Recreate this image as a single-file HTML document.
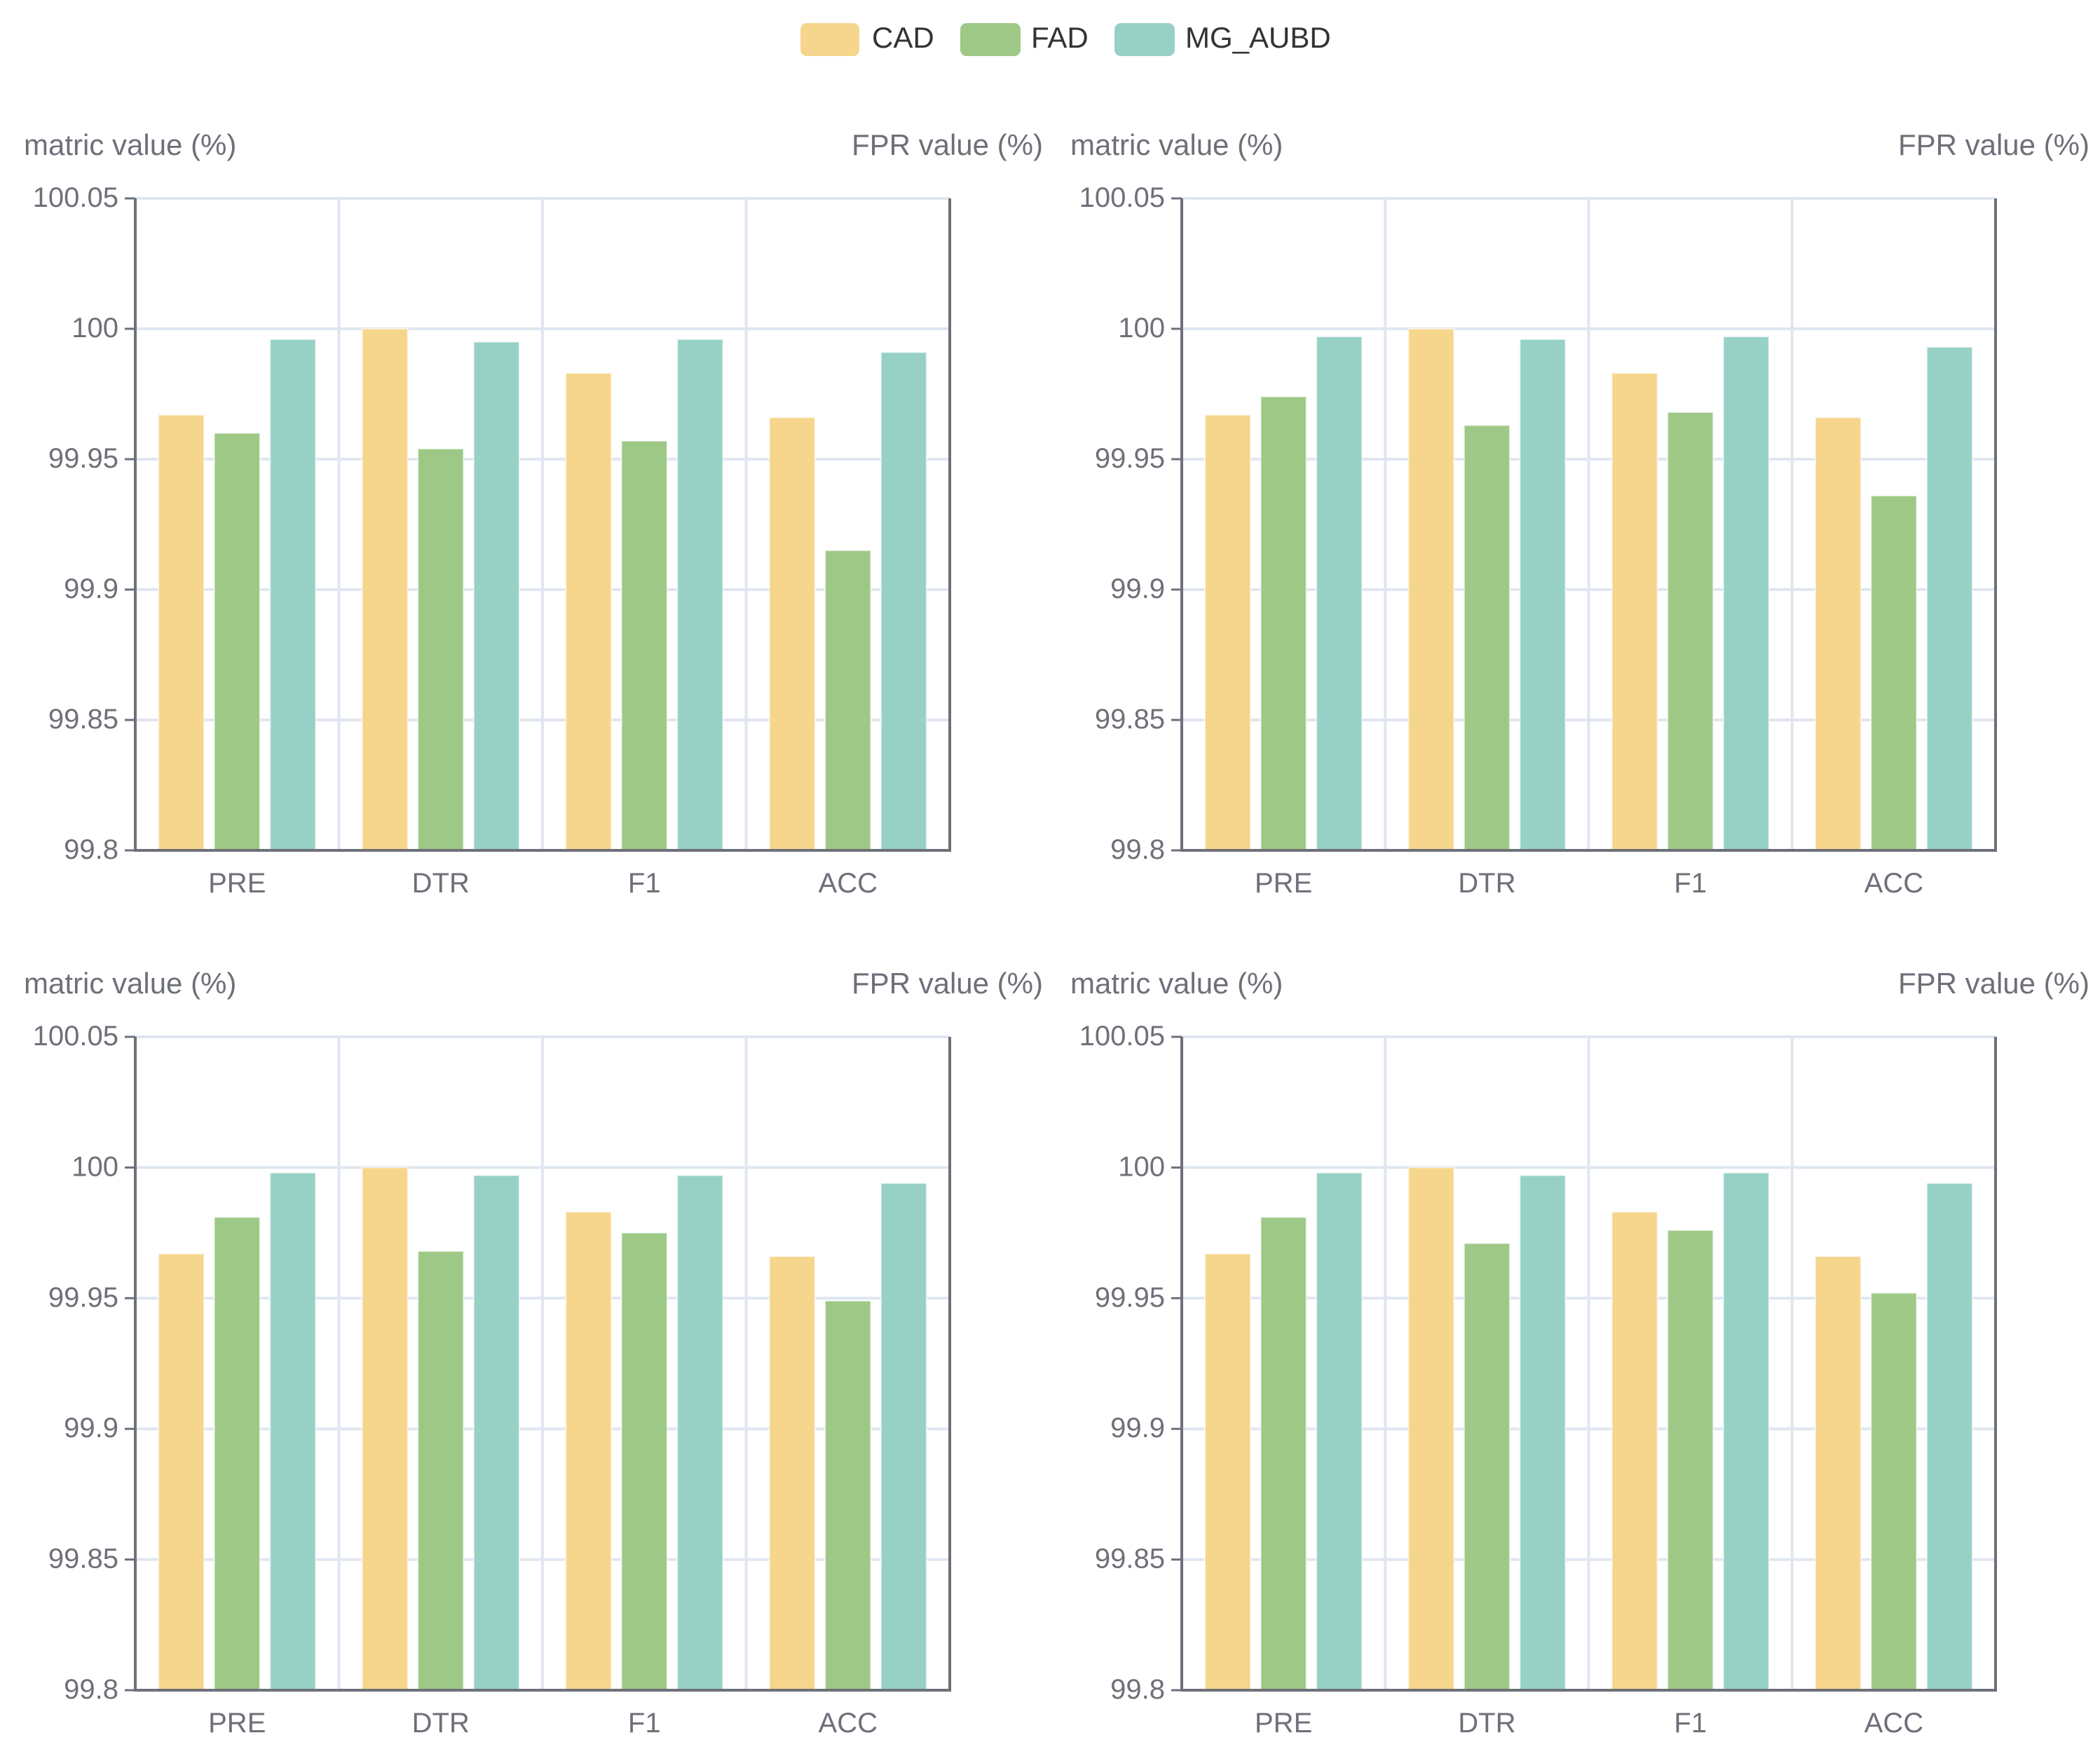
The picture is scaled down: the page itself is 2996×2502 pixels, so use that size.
<!DOCTYPE html>
<html><head><meta charset="utf-8"><style>
html,body{margin:0;padding:0;background:#fff}
svg{display:block}
text{font-family:"Liberation Sans",sans-serif}
</style></head><body>
<svg id="c" width="2996" height="2502" viewBox="0 0 2996 2502">
<g>
 <rect x="1142" y="33" width="84" height="47" rx="9" fill="#f6d58c"/>
 <text x="1244" y="68" font-size="42" fill="#333">CAD</text>
 <rect x="1370" y="33" width="86" height="47" rx="9" fill="#9dc886"/>
 <text x="1471" y="68" font-size="42" fill="#333">FAD</text>
 <rect x="1590" y="33" width="86" height="47" rx="9" fill="#97d1c5"/>
 <text x="1691" y="68" font-size="42" fill="#333">MG_AUBD</text>
</g>
</svg>
<script>
const categories=["PRE","DTR","F1","ACC"];
const seriesNames=["CAD","FAD","MG_AUBD"];
const yTicks=[99.8,99.85,99.9,99.95,100,100.05];
const yTickLabels=["99.8","99.85","99.9","99.95","100","100.05"];
const tlCAD=[99.967,100.0,99.983,99.966];
const tlFAD=[99.960,99.954,99.957,99.915];
const tlMG=[99.996,99.995,99.996,99.991];
const trCAD=[99.967,100.0,99.983,99.966];
const trFAD=[99.974,99.963,99.968,99.936];
const trMG=[99.997,99.996,99.997,99.993];
const blCAD=[99.967,100.0,99.983,99.966];
const blFAD=[99.981,99.968,99.975,99.949];
const blMG=[99.998,99.997,99.997,99.994];
const brCAD=[99.967,100.0,99.983,99.966];
const brFAD=[99.981,99.971,99.976,99.952];
const brMG=[99.998,99.997,99.998,99.994];

const colors=["#f6d58c","#9dc886","#97d1c5"];
const NS="http://www.w3.org/2000/svg";
const svg=document.getElementById('c');
function mk(tag,attrs,parent){const e=document.createElementNS(NS,tag);for(const k in attrs)e.setAttribute(k,attrs[k]);parent.appendChild(e);return e;}
function drawChart(name,x0,x1,y0,y1,series){
  const g=mk('g',{},svg);
  
  
  const yMin=yTicks[0],yMax=yTicks[yTicks.length-1];
  const ys=v=>y1-(v-yMin)/(yMax-yMin)*(y1-y0);
  const bw=(x1-x0)/categories.length;
  const xs=i=>x0+i*bw;
  const t1=mk('text',{x:x0-159,y:y0-62,'font-size':42,fill:'#6e7079'},g);t1.textContent='matric value (%)';
  
  
  const t2=mk('text',{x:x0+1295,y:y0-62,'font-size':42,fill:'#6e7079','text-anchor':'end'},g);t2.textContent='FPR value (%)';
  
  
  yTicks.forEach((v,i)=>{
    const y=ys(v);
    const l=mk('line',{x1:x0,x2:x1,y1:y,y2:y,stroke:'#e0e6f1','stroke-width':4},g);
    
    
    mk('line',{x1:x0-15,x2:x0,y1:y,y2:y,stroke:'#6e7079','stroke-width':3},g);
    const t=mk('text',{x:x0-24,y:y+12,'font-size':40,fill:'#6e7079','text-anchor':'end'},g);
    t.textContent=yTickLabels[i];
    
    
  });
  for(let i=1;i<categories.length;i++){
    const l=mk('line',{x1:xs(i),x2:xs(i),y1:y0,y2:y1,stroke:'#e0e6f1','stroke-width':4},g);
    
    
  }
  const barW=bw*0.224,gap=bw*0.05,groupW=3*barW+2*gap;
  categories.forEach((c,i)=>{
    series.forEach((arr,s)=>{
      const bx=xs(i)+(bw-groupW)/2+s*(barW+gap);
      const by=ys(arr[i]);
      const r=mk('rect',{x:bx,y:by,width:barW,height:y1-by,fill:colors[s],stroke:'rgba(255,255,255,0.6)','stroke-width':2},g);
      
      
    });
    const t=mk('text',{x:xs(i)+bw/2,y:y1+60,'font-size':40,fill:'#6e7079','text-anchor':'middle'},g);
    t.textContent=c;
    
    
  });
  const ya=mk('line',{x1:x0,x2:x0,y1:y0,y2:y1+2,stroke:'#6e7079','stroke-width':4},g);
  
  
  const ya2=mk('line',{x1:x1,x2:x1,y1:y0,y2:y1+2,stroke:'#6e7079','stroke-width':4},g);
  
  
  const xa=mk('line',{x1:x0,x2:x1,y1:y1,y2:y1,stroke:'#6e7079','stroke-width':4},g);
  
  
}
drawChart('chart-top-left',193,1355,283,1213,[tlCAD,tlFAD,tlMG]);
drawChart('chart-top-right',1686,2847,283,1213,[trCAD,trFAD,trMG]);
drawChart('chart-bottom-left',193,1355,1479,2411,[blCAD,blFAD,blMG]);
drawChart('chart-bottom-right',1686,2847,1479,2411,[brCAD,brFAD,brMG]);
</script>
</body></html>
